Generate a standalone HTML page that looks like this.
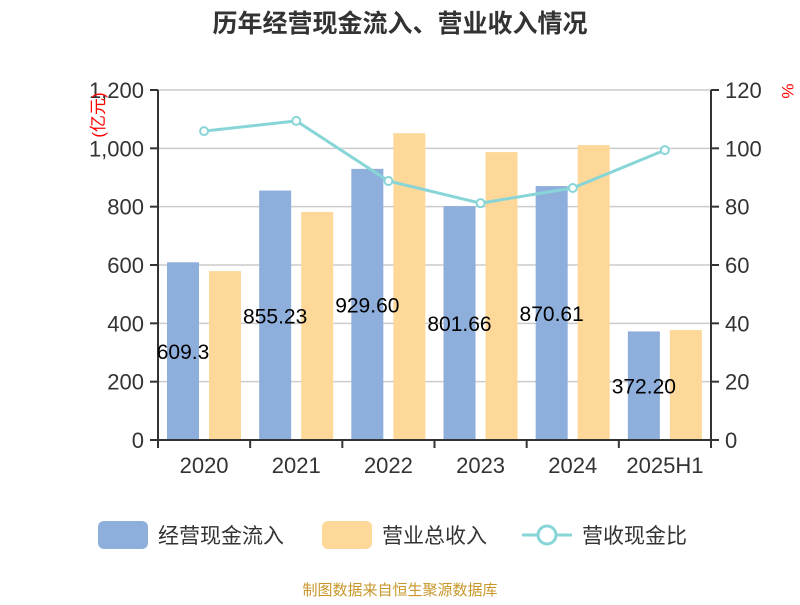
<!DOCTYPE html>
<html><head><meta charset="utf-8"><style>
body{margin:0;background:#fff}
svg text{font-family:"Liberation Sans","Noto Sans CJK SC",sans-serif}
</style></head><body>
<svg id="c" width="800" height="600" xmlns="http://www.w3.org/2000/svg">
<text x="400" y="32" text-anchor="middle" font-size="25" font-weight="bold" fill="#333">历年经营现金流入、营业收入情况</text>
<g id="grid"></g><g id="bars"></g><g id="line"></g><g id="axes"></g><g id="labels"></g>
<text transform="translate(104,115) rotate(-90)" text-anchor="middle" font-size="17" fill="#f00">(亿元)</text>
<text transform="translate(782,91) rotate(90)" text-anchor="middle" font-size="17" fill="#f00">%</text>
<g>
<rect x="98" y="521" width="50" height="28" rx="6" fill="#8eaedb"/>
<text x="158" y="543" font-size="21" fill="#333">经营现金流入</text>
<rect x="322" y="521" width="50" height="28" rx="6" fill="#fdd898"/>
<text x="382" y="543" font-size="21" fill="#333">营业总收入</text>
<line x1="522" y1="535" x2="572" y2="535" stroke="#88d5d8" stroke-width="3"/>
<circle cx="547" cy="535" r="9" fill="#fff" stroke="#88d5d8" stroke-width="3"/>
<text x="582" y="543" font-size="21" fill="#333">营收现金比</text>
</g>
<text x="400" y="595" text-anchor="middle" font-size="15" fill="#c8962a">制图数据来自恒生聚源数据库</text>
</svg>
<script>
const categories=["2020","2021","2022","2023","2024","2025H1"];
const cashInflow=[609.3,855.23,929.60,801.66,870.61,372.20];
const cashLabels=["609.3","855.23","929.60","801.66","870.61","372.20"];
const revenue=[579,782,1052,987,1011,377];
const ratio=[105.9,109.4,88.8,81.2,86.4,99.4];
const leftTicks=[0,200,400,600,800,1000,1200];
const leftTickLabels=["0","200","400","600","800","1,000","1,200"];
const rightTicks=[0,20,40,60,80,100,120];
const NS="http://www.w3.org/2000/svg";
const X0=158,X1=711,Y0=440,Y1=90;
const bw=(X1-X0)/categories.length;
const yL=v=>Y0-(v/1200)*(Y0-Y1);
const yR=v=>Y0-(v/120)*(Y0-Y1);
const xB=i=>X0+bw*i;
function mk(t,a,p){const e=document.createElementNS(NS,t);for(const k in a)e.setAttribute(k,a[k]);document.getElementById(p).appendChild(e);return e;}
leftTicks.forEach((v,i)=>{
 if(v>0){const g=mk('line',{x1:X0,x2:X1,y1:yL(v),y2:yL(v),stroke:'#ccc','stroke-width':1.5},'grid');
 
 }
 const t=mk('line',{x1:X0-8,x2:X0,y1:yL(v),y2:yL(v),stroke:'#333','stroke-width':2},'axes');
 
 
 const l=mk('text',{x:X0-14,y:yL(v)+8,'text-anchor':'end','font-size':22,fill:'#333'},'axes');l.textContent=leftTickLabels[i];
 
 
});
rightTicks.forEach(v=>{
 const t=mk('line',{x1:X1,x2:X1+8,y1:yR(v),y2:yR(v),stroke:'#333','stroke-width':2},'axes');
 
 
 const l=mk('text',{x:X1+14,y:yR(v)+8,'font-size':22,fill:'#333'},'axes');l.textContent=v;
 
 
});
let a=mk('line',{x1:X0,x2:X0,y1:Y1,y2:Y0,stroke:'#333','stroke-width':2},'axes');


a=mk('line',{x1:X1,x2:X1,y1:Y1,y2:Y0,stroke:'#333','stroke-width':2},'axes');


a=mk('line',{x1:X0,x2:X1,y1:Y0,y2:Y0,stroke:'#333','stroke-width':2},'axes');


for(let i=0;i<=categories.length;i++){
 const t=mk('line',{x1:xB(i),x2:xB(i),y1:Y0,y2:Y0+8,stroke:'#333','stroke-width':2},'axes');
 
 
}
categories.forEach((c,i)=>{
 const l=mk('text',{x:xB(i)+bw/2,y:Y0+33,'text-anchor':'middle','font-size':22,fill:'#333'},'axes');l.textContent=c;
 
 
 const b1=mk('rect',{x:xB(i)+9,y:yL(cashInflow[i]),width:32,height:Y0-yL(cashInflow[i]),fill:'#8eaedb'},'bars');
 
 
 const b2=mk('rect',{x:xB(i)+51,y:yL(revenue[i]),width:32,height:Y0-yL(revenue[i]),fill:'#fdd898'},'bars');
 
 
 const v=mk('text',{x:xB(i)+25,y:(yL(cashInflow[i])+Y0)/2+8,'text-anchor':'middle','font-size':21,fill:'#000'},'labels');v.textContent=cashLabels[i];
 
 
});
const pts=ratio.map((r,i)=>(xB(i)+bw/2)+','+yR(r)).join(' ');
const pl=mk('polyline',{points:pts,fill:'none',stroke:'#88d5d8','stroke-width':3},'line');


ratio.forEach((r,i)=>{
 const c=mk('circle',{cx:xB(i)+bw/2,cy:yR(r),r:4,fill:'#fff',stroke:'#88d5d8','stroke-width':2},'line');
 
 
});
</script>
</body></html>
